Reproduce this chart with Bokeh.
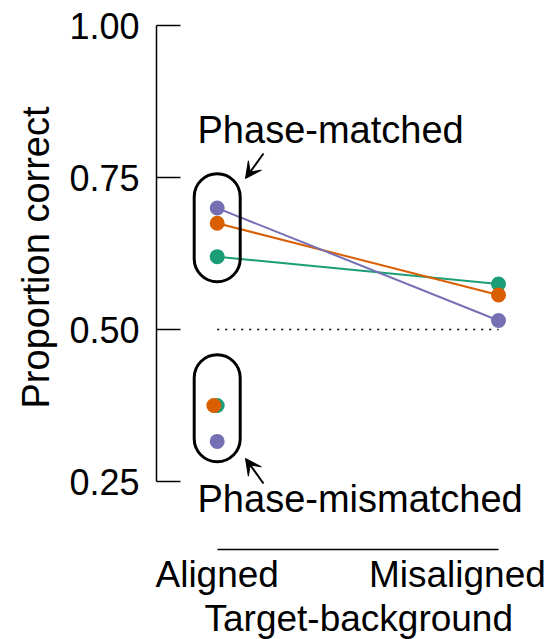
from bokeh.plotting import figure
from bokeh.models import Range1d, FixedTicker, Label, Arrow, VeeHead, PrintfTickFormatter, Title
from bokeh.embed import file_html
from bokeh.resources import INLINE

# ---- data ----
conditions = ["Aligned", "Misaligned"]
cond_x = [1, 2]
label_x = [1.0, 1.854]   # Misaligned label is pulled left to fit inside the page
series_names = ["green", "orange", "purple"]
series_colors = ["#1B9E77", "#D95F02", "#7570B3"]
matched_green = [0.620, 0.575]
matched_orange = [0.675, 0.557]
matched_purple = [0.700, 0.515]
mismatched_values = [0.375, 0.375, 0.316]   # green, orange, purple (aligned only)
mismatched_x = [1.0, 0.988, 1.0]
chance = 0.5
y_ticks = [0.25, 0.50, 0.75, 1.00]

FONT = "Liberation Sans"

p = figure(width=551, height=639, output_backend="svg", toolbar_location=None,
           x_range=Range1d(0.7842, 2.1493), y_range=Range1d(0.1381, 1.0169),
           min_border_left=156, min_border_right=11, min_border_top=15, min_border_bottom=90)
p.outline_line_color = None
p.xgrid.visible = False
p.ygrid.visible = False
p.background_fill_color = "white"
p.border_fill_color = "white"

# y axis
ya = p.yaxis[0]
ya.ticker = FixedTicker(ticks=y_ticks)
ya.formatter = PrintfTickFormatter(format="%.2f")
ya.bounds = (0.25, 1.0)
ya.major_tick_in = 24
ya.major_tick_out = 0
ya.minor_tick_line_color = None
ya.axis_line_width = 1.5
ya.major_tick_line_width = 1.5
ya.axis_line_color = "black"
ya.major_tick_line_color = "black"
ya.major_label_text_font = FONT
ya.major_label_text_font_size = "36px"
ya.major_label_text_color = "black"
ya.major_label_standoff = 17

# x axis (line + category labels)
xa = p.xaxis[0]
xa.ticker = FixedTicker(ticks=label_x)
xa.major_label_overrides = {label_x[0]: conditions[0], label_x[1]: conditions[1]}
xa.bounds = (1, 2)
xa.major_tick_in = 0
xa.major_tick_out = 0
xa.major_tick_line_color = None
xa.minor_tick_line_color = None
xa.axis_line_width = 1.5
xa.axis_line_color = "black"
xa.major_label_text_font = FONT
xa.major_label_text_font_size = "37px"
xa.major_label_text_color = "black"
xa.major_label_standoff = 4

p.add_layout(Title(text="Proportion correct", align="left", offset=141, standoff=20,
                   text_font=FONT, text_font_size="38px", text_font_style="normal",
                   text_color="black"), "left")
p.add_layout(Title(text="Target-background", align="left", offset=48, standoff=-3,
                   text_font=FONT, text_font_size="37px", text_font_style="normal",
                   text_color="black"), "below")

# chance line
p.line(cond_x, [chance, chance], line_color="black", line_width=1.5, line_dash="2 6")

# connecting lines
matched = [matched_green, matched_orange, matched_purple]
for vals, col in zip(matched, series_colors):
    p.line(cond_x, vals, line_color=col, line_width=2)

# stadium outlines
p.rect(x=[1.0, 1.0], y=[0.6677, 0.3706], width=46, width_units="screen",
       height=[0.1777, 0.1761], fill_color=None, line_color="black", line_width=3,
       border_radius=23)

# points
for vals, col in zip(matched, series_colors):
    p.scatter(cond_x, vals, size=15, fill_color=col, line_color=None)
for xv, v, col in zip(mismatched_x, mismatched_values, series_colors):
    p.scatter([xv], [v], size=15, fill_color=col, line_color=None)

# arrows
p.add_layout(Arrow(end=VeeHead(size=16, fill_color="black", line_color="black", line_width=1),
                   x_start=1.1646, y_start=0.7898, x_end=1.1006, y_end=0.7487,
                   line_color="black", line_width=2))
p.add_layout(Arrow(end=VeeHead(size=16, fill_color="black", line_color="black", line_width=1),
                   x_start=1.1646, y_start=0.2467, x_end=1.1006, y_end=0.2879,
                   line_color="black", line_width=2))

def lab(x, y, text, align="left"):
    p.add_layout(Label(x=x, y=y, text=text, text_align=align, text_baseline="alphabetic",
                       text_font=FONT, text_font_size="38px", text_color="black"))

lab(0.930, 0.829, "Phase-matched")
lab(0.930, 0.222, "Phase-mismatched")

open("out.html", "w").write(file_html(p, INLINE))
